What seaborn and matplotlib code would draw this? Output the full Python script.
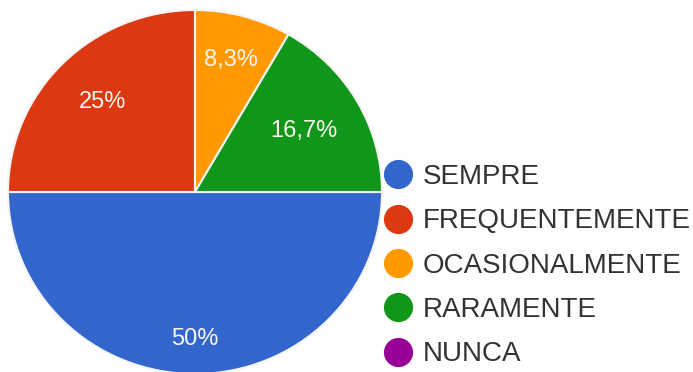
import matplotlib
matplotlib.use("Agg")
import matplotlib.pyplot as plt
from matplotlib.lines import Line2D
import seaborn as sns

sns.set_theme(style="white")
plt.rcParams["font.family"] = ["Liberation Sans", "DejaVu Sans"]

# Survey answers (out of 12 responses)
categories = ["SEMPRE", "FREQUENTEMENTE", "OCASIONALMENTE", "RARAMENTE", "NUNCA"]
counts = [6, 3, 1, 2, 0]
colors = ["#3366cc", "#dc3912", "#ff9900", "#109618", "#990099"]

fig = plt.figure(figsize=(6.93, 3.72), dpi=100)
fig.patch.set_facecolor("white")

# pie axes, slightly taller than wide like the source rendering
ax = fig.add_axes([8 / 693, -2 / 372, 374 / 693, 364 / 372])

shown = [(c, v, col) for c, v, col in zip(categories, counts, colors) if v > 0]


def pct_label(p):
    txt = f"{p:.1f}".rstrip("0").rstrip(".")
    return txt.replace(".", ",") + "%"


wedges, texts, autotexts = ax.pie(
    [v for _, v, _ in shown],
    colors=[col for _, _, col in shown],
    startangle=0,
    counterclock=False,
    autopct=pct_label,
    pctdistance=0.7,
    radius=1.0,
    wedgeprops=dict(edgecolor="#f4f4f4", linewidth=1.5),
    textprops=dict(color="#fbf6f0", fontsize=17),
)
ax.set_aspect("auto")
ax.set_xlim(-1.0, 1.0)
ax.set_ylim(-1.0, 1.0)

# push labels radially to their resting places
radial = {"SEMPRE": 0.81 / 0.7, "FREQUENTEMENTE": 1.0, "OCASIONALMENTE": 0.75 / 0.7,
          "RARAMENTE": 0.67 / 0.7}
for (name, _, _), t in zip(shown, autotexts):
    x, y = t.get_position()
    f = radial.get(name, 1.0)
    t.set_position((x * f, y * f))
    t.set_ha("center")
    t.set_va("center")

# legend with circular swatches, including empty categories
handles = [
    Line2D([0], [0], marker="o", linestyle="none", markersize=20,
           markerfacecolor=col, markeredgecolor=col)
    for col in colors
]
fig.legend(
    handles, categories,
    loc="upper left",
    bbox_to_anchor=(384 / 693, 1 - 164 / 372),
    frameon=False,
    fontsize=20,
    labelcolor="#333333",
    handlelength=1.0,
    handletextpad=0.4,
    labelspacing=0.66,
    borderpad=0.0,
    borderaxespad=0.0,
)

fig.savefig("out.png", dpi=100, facecolor="white")
